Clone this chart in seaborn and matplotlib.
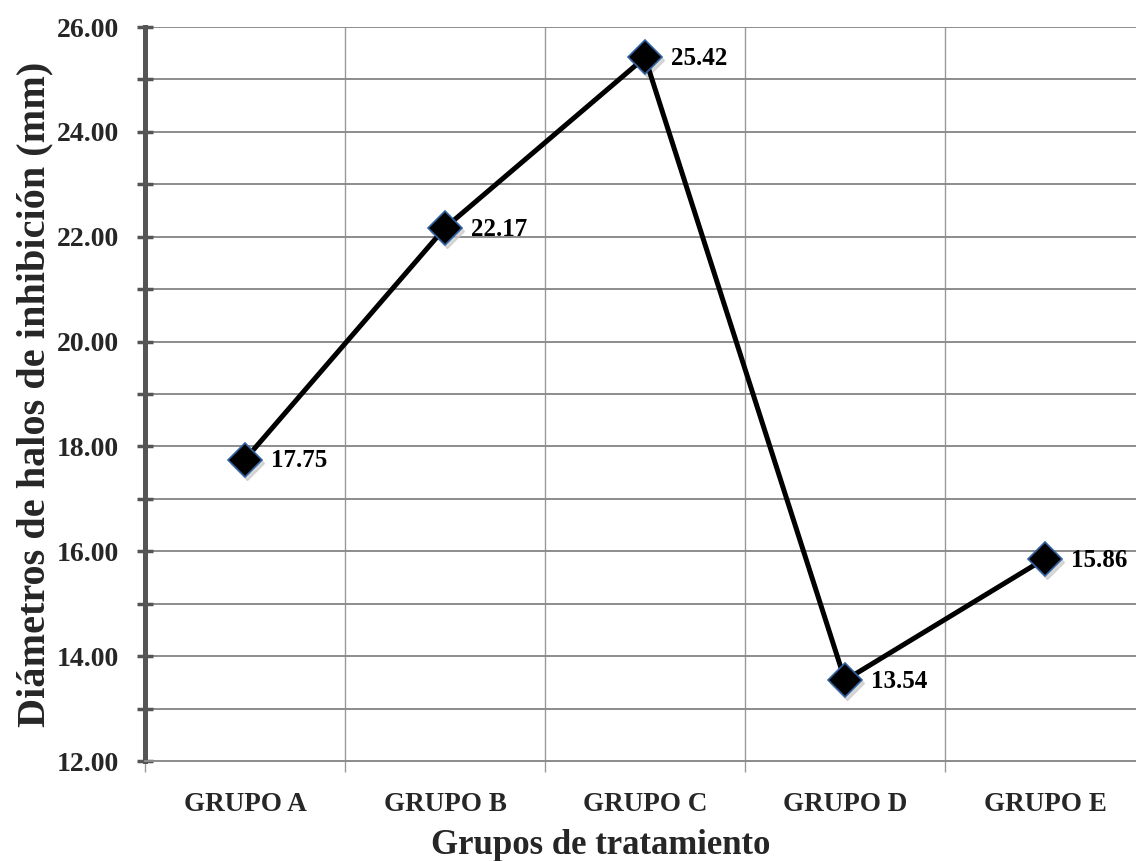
import numpy as np
import pandas as pd
import matplotlib
matplotlib.use("Agg")
import matplotlib.pyplot as plt
from matplotlib.ticker import MultipleLocator, FormatStrFormatter
from matplotlib.transforms import offset_copy
import seaborn as sns

# datos
grupos = ["GRUPO A", "GRUPO B", "GRUPO C", "GRUPO D", "GRUPO E"]
diametros = [17.75, 22.17, 25.42, 13.54, 15.86]

df = pd.DataFrame({"grupo": grupos, "diametro": diametros})

sns.set_theme(style="white")
plt.rcParams["font.family"] = ["Liberation Serif", "DejaVu Serif"]
plt.rcParams["font.weight"] = "bold"

fig = plt.figure(figsize=(11.36, 8.61), dpi=100)
ax = fig.add_axes([0.1276, 0.1161, 0.8803, 0.8525])

sns.lineplot(
    data=df, x="grupo", y="diametro", sort=False, ax=ax,
    color="black", linewidth=3.6, marker="D", markersize=17,
    markerfacecolor="black", markeredgecolor="#2f62a3", markeredgewidth=1.2,
    zorder=5,
)

# sombra suave bajo los marcadores
sombra = offset_copy(ax.transData, fig=fig, x=1.2, y=-2.2, units="points")
ax.plot(range(len(grupos)), diametros, linestyle="none", marker="D", markersize=17,
        color="#c8c8c8", alpha=0.7, transform=sombra, zorder=4)

for i, v in enumerate(diametros):
    ax.annotate(f"{v:.2f}", (i, v), xytext=(19, -1), textcoords="offset points",
                va="center", ha="left", fontsize=18, fontweight="bold", color="black")

ax.set_xlim(-0.5, 4.5)
ax.set_ylim(12, 26)
ax.yaxis.set_major_locator(MultipleLocator(2))
ax.yaxis.set_minor_locator(MultipleLocator(1))
ax.yaxis.set_major_formatter(FormatStrFormatter("%.2f"))
ax.set_xticks(range(len(grupos)))
ax.set_xticks(np.arange(-0.5, 5.0, 1.0), minor=True)

ax.grid(axis="y", which="both", color="#8c8c8c", linewidth=1.4)
ax.grid(axis="x", which="minor", color="#9a9a9a", linewidth=1.0)
ax.grid(axis="x", which="major", visible=False)

for s in ["top", "right"]:
    ax.spines[s].set_visible(False)
ax.spines["left"].set_color("#555555")
ax.spines["left"].set_linewidth(3.6)
ax.spines["bottom"].set_color("#8c8c8c")
ax.spines["bottom"].set_linewidth(1.4)

ax.tick_params(axis="y", which="both", direction="inout", length=11, width=2.5,
               color="#555555", left=True, labelsize=20, pad=13)
ax.tick_params(axis="x", which="major", length=0, labelsize=19.5, pad=22)
ax.tick_params(axis="x", which="minor", direction="out", length=8, width=1.0,
               color="#9a9a9a", bottom=True)

for lab in ax.get_xticklabels() + ax.get_yticklabels():
    lab.set_fontweight("bold")

ax.set_xlabel("Grupos de tratamiento", fontsize=25, fontweight="bold")
ax.xaxis.set_label_coords(0.456, -0.093)
ax.set_ylabel("Diámetros de halos de inhibición (mm)", fontsize=29, fontweight="bold")
ax.yaxis.set_label_coords(-0.092, 0.5)

fig.savefig("out.png", dpi=100)
